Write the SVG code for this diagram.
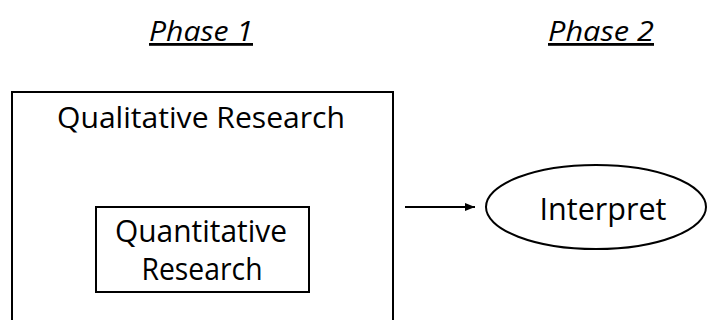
<svg xmlns="http://www.w3.org/2000/svg" width="708" height="320" viewBox="0 0 708 320">
<defs>
<style>
.t{font-family:"Open Sans","Noto Sans",sans-serif;fill:#000;text-anchor:middle}
.ph{font-size:28px;font-style:italic;text-decoration:underline}
.box{fill:#fff;stroke:#000;stroke-width:2}
</style>
<marker id="ah" markerWidth="10" markerHeight="8" refX="10" refY="4" orient="auto" markerUnits="userSpaceOnUse">
<path d="M0,0 L10,4 L0,8 Z" fill="#000"/>
</marker>
</defs>
<rect width="708" height="320" fill="#fff"/>
<g id="phase1"><text class="t ph" x="201" y="41" textLength="104" lengthAdjust="spacingAndGlyphs">Phase 1</text></g>
<g id="phase2"><text class="t ph" x="601" y="41" textLength="106" lengthAdjust="spacingAndGlyphs">Phase 2</text></g>
<g id="qualitative">
<rect class="box" x="12" y="92" width="381" height="240"/>
<text class="t" x="201" y="128" font-size="30" textLength="288" lengthAdjust="spacingAndGlyphs">Qualitative Research</text>
</g>
<g id="quantitative">
<rect class="box" x="96" y="207" width="213" height="85"/>
<text class="t" x="201" y="242" font-size="31" textLength="172" lengthAdjust="spacingAndGlyphs">Quantitative</text>
<text class="t" x="202" y="280" font-size="31" textLength="121" lengthAdjust="spacingAndGlyphs">Research</text>
</g>
<g id="interpret">
<ellipse class="box" cx="596" cy="207" rx="110" ry="42"/>
<text class="t" x="603" y="220" font-size="31" textLength="127" lengthAdjust="spacingAndGlyphs">Interpret</text>
</g>
<g id="connectors">
<line x1="405" y1="207" x2="475" y2="207" stroke="#000" stroke-width="1.8" marker-end="url(#ah)"/>
</g>
</svg>
